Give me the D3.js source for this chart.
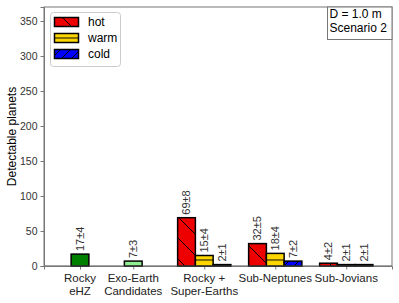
<!DOCTYPE html>
<html><head><meta charset="utf-8">
<script src="https://cdn.jsdelivr.net/npm/d3@7"></script>
<style>body{margin:0;background:#fff}svg{display:block;font-family:"Liberation Sans",Arial,sans-serif}</style>
</head><body><svg id="c" width="399" height="303"></svg>
<script>
const categories = ["Rocky\neHZ", "Exo-Earth\nCandidates", "Rocky +\nSuper-Earths", "Sub-Neptunes", "Sub-Jovians"];
const catPositions = [0, 0.75, 1.75, 2.75, 3.75];
const singleValues = [17, 7];
const singleErrors = [4, 3];
const singleColors = ["#008000", "#90ee90"];
const groupCats = [2, 3, 4];
const hotValues = [69, 32, 4];
const hotErrors = [8, 5, 2];
const warmValues = [15, 18, 2];
const warmErrors = [4, 4, 1];
const coldValues = [2, 7, 2];
const coldErrors = [1, 2, 1];
const seriesNames = ["hot", "warm", "cold"];
const seriesColors = ["#ee0000", "#ffd700", "#0000ff"];
const yTicks = [0, 50, 100, 150, 200, 250, 300, 350];
const annotationLines = ["D = 1.0 m", "Scenario 2"];

const svg = d3.select("#c");
const L = 44, R = 392, T = 7, B = 266;
const x = d3.scaleLinear().domain([-0.507, 4.394]).range([L, R]);
const y = d3.scaleLinear().domain([0, 370]).range([B, T]);
const bw = 0.25;

const defs = svg.append("defs");
const pHot = defs.append("pattern").attr("id","hHot").attr("patternUnits","userSpaceOnUse").attr("width",21).attr("height",21).attr("x",3);
pHot.append("path").attr("d","M-2,-2L23,23M-2,19L2,23M19,-2L23,2").attr("stroke","#000").attr("stroke-width",1);
const pWarm = defs.append("pattern").attr("id","hWarm").attr("patternUnits","userSpaceOnUse").attr("width",20).attr("height",11.1).attr("y",260-23*11.1-0.5);
pWarm.append("path").attr("d","M0,0.5L20,0.5").attr("stroke","#000").attr("stroke-width",1);
const pCold = defs.append("pattern").attr("id","hCold").attr("patternUnits","userSpaceOnUse").attr("width",10).attr("height",10);
pCold.append("path").attr("d","M-2,12L12,-2M-2,2L2,-2M8,12L12,8").attr("stroke","#000").attr("stroke-width",1);
const hatchIds = ["hHot","hWarm","hCold"];

svg.append("rect").attr("x",L).attr("y",T).attr("width",R-L).attr("height",B-T).attr("fill","none").attr("stroke","#777").attr("stroke-width",1);

const yAxis = d3.axisLeft(y).tickValues(yTicks).tickSize(3.5).tickPadding(3);
const gy = svg.append("g").attr("transform",`translate(${L},0)`).call(yAxis);
gy.select(".domain").attr("stroke","#777");
gy.selectAll(".tick line").attr("stroke","#777");
gy.selectAll(".tick text").attr("font-size",10.5).attr("fill","#333").attr("font-family","Liberation Sans, Arial, sans-serif");

const xAxis = d3.axisBottom(x).tickValues(catPositions).tickSize(3.5).tickFormat("");
const gx = svg.append("g").attr("transform",`translate(0,${B})`).call(xAxis);
gx.select(".domain").attr("stroke","#777");
gx.selectAll(".tick line").attr("stroke","#777");
categories.forEach((c,i)=>{
  const lines = c.split("\n");
  const t = svg.append("text").attr("x",x(catPositions[i])).attr("y",282).attr("text-anchor","middle").attr("font-size",11.5).attr("fill","#222");
  lines.forEach((ln,j)=>t.append("tspan").attr("x",x(catPositions[i])).attr("dy",j?12.5:0).text(ln));
});

svg.append("text").attr("transform",`translate(16,${(T+B)/2}) rotate(-90)`).attr("text-anchor","middle").attr("font-size",12).attr("fill","#000").text("Detectable planets");

function valueLabel(cx, v, e){
  const fs = 11;
  svg.append("text").attr("transform",`translate(${cx+fs*0.36},${y(v)-3}) rotate(-90)`).attr("font-size",fs).attr("fill","#333").text(`${v}±${e}`);
}

singleValues.forEach((v,i)=>{
  const cx = x(catPositions[i]);
  const w = x(bw)-x(0);
  svg.append("rect").attr("x",cx-w/2).attr("y",y(v)).attr("width",w).attr("height",B-y(v)).attr("fill",singleColors[i]).attr("stroke","#000").attr("stroke-width",1.5);
  valueLabel(cx, v, singleErrors[i]);
});

const seriesVals = [hotValues, warmValues, coldValues];
const seriesErrs = [hotErrors, warmErrors, coldErrors];
seriesVals.forEach((vals,s)=>{
  vals.forEach((v,k)=>{
    const c = catPositions[groupCats[k]] + (s-1)*bw;
    const x0 = x(c-bw/2), x1 = x(c+bw/2);
    svg.append("rect").attr("x",x0).attr("y",y(v)).attr("width",x1-x0).attr("height",B-y(v)).attr("fill",seriesColors[s]);
    svg.append("rect").attr("x",x0).attr("y",y(v)).attr("width",x1-x0).attr("height",B-y(v)).attr("fill",`url(#${hatchIds[s]})`);
    svg.append("rect").attr("x",x0).attr("y",y(v)).attr("width",x1-x0).attr("height",B-y(v)).attr("fill","none").attr("stroke","#000").attr("stroke-width",1.5);
    valueLabel(x(c), v, seriesErrs[s][k]);
  });
});

svg.append("line").attr("x1",L).attr("x2",R).attr("y1",B).attr("y2",B).attr("stroke","#777").attr("stroke-width",1).attr("opacity",0.6);

const lg = svg.append("g");
lg.append("rect").attr("x",50.5).attr("y",12.5).attr("width",70).attr("height",54).attr("rx",3).attr("fill","#fff").attr("stroke","#ccc");
seriesNames.forEach((n,i)=>{
  const yy = 17.5 + i*16;
  lg.append("rect").attr("x",54.5).attr("y",yy).attr("width",24).attr("height",9).attr("fill",seriesColors[i]);
  lg.append("rect").attr("x",54.5).attr("y",yy).attr("width",24).attr("height",9).attr("fill",`url(#${hatchIds[i]})`);
  lg.append("rect").attr("x",54.5).attr("y",yy).attr("width",24).attr("height",9).attr("fill","none").attr("stroke","#000").attr("stroke-width",1.5);
  lg.append("text").attr("x",88).attr("y",yy+8.5).attr("font-size",12).attr("fill","#000").text(n);
});

svg.append("rect").attr("x",327.5).attr("y",T).attr("width",R-327.5).attr("height",32.5).attr("fill","#fff").attr("stroke","#777");
annotationLines.forEach((t,i)=>{
  svg.append("text").attr("x",329.5).attr("y",18+i*14).attr("font-size",12).attr("fill","#000").text(t);
});
</script></body></html>
